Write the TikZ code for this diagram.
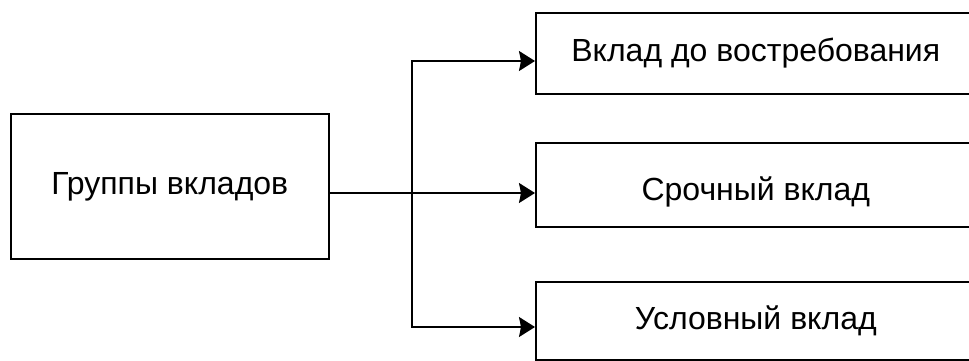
\documentclass[tikz,border=0pt]{standalone}
\usepackage{fontspec}
\setmainfont{Liberation Sans}
\usetikzlibrary{arrows.meta}
\begin{document}
\begin{tikzpicture}[x=1pt,y=-1pt,
  box/.style={draw,line width=1.6pt,rectangle,inner sep=0pt,anchor=north west,
    font=\fontsize{32}{38}\selectfont},
  conn/.style={line width=1.6pt},
  arr/.style={conn,-{Stealth[length=16pt,width=20pt,inset=2pt]}}]
\useasboundingbox (0,0) rectangle (969,360);
\node[box,minimum width=318pt,minimum height=145pt] (grp) at (10,113) {Группы вкладов};
\node[box,minimum width=440pt,minimum height=81pt] (top) at (535,12) {Вклад до востребования};
\node[box,minimum width=440pt,minimum height=84pt] (mid) at (535,142) {\raisebox{-7pt}[0pt][0pt]{Срочный вклад}\vphantom{Срочный вклад}};
\node[box,minimum width=440pt,minimum height=78pt] (bot) at (535,281) {Условный вклад};
\coordinate (j) at (412,193);
\coordinate (ya) at (0,61);
\coordinate (yb) at (0,327);
\draw[conn] (grp.east |- j) -- (j);
\draw[arr] (j) -- (mid.west |- j);
\draw[arr] (j) |- (top.west |- ya);
\draw[arr] (j) |- (bot.west |- yb);
\end{tikzpicture}
\end{document}
